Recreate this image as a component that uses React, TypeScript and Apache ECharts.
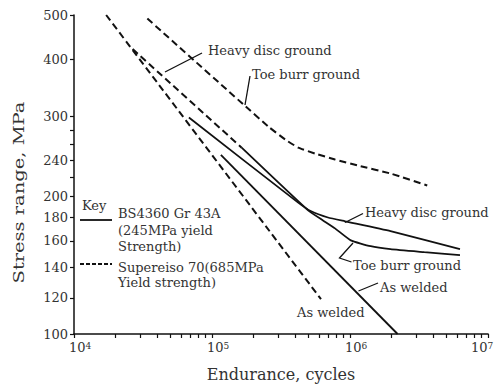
import React, { useEffect, useRef } from 'react';
import * as echarts from 'echarts';

const FONT = '"DejaVu Serif", "Liberation Serif", serif';
const INK = '#111';
const TXT = '#333';

// Axis ticks and labels
const xLabelValues = [10000, 100000, 1000000, 10000000];
const xTickValues = [
  10000, 20000, 30000, 40000, 50000, 60000, 70000, 80000, 90000,
  100000, 200000, 300000, 400000, 500000, 600000, 700000, 800000, 900000,
  1000000, 2000000, 3000000, 4000000, 5000000, 6000000, 7000000, 8000000, 9000000,
  10000000,
];
const yLabelValues = [100, 120, 140, 160, 180, 200, 240, 300, 400, 500];
const yTickValues = [100, 120, 140, 160, 180, 200, 220, 240, 260, 280, 300, 400, 500];

// BS4360 Gr 43A (solid)
const bsAsWelded = [[115900, 247], [2210000, 100]];
const bsHeavyDisc = [
  [68000, 298], [421000, 194], [523000, 185.7], [692000, 180],
  [918000, 176.6], [1965000, 168], [6260000, 153.4],
];
const bsToeBurr = [
  [164000, 256], [497000, 186.6], [637000, 177.4], [778000, 170.4],
  [1013000, 160.4], [1411000, 155.7], [1965000, 153.4], [3450000, 151.1], [6260000, 148.8],
];

// Supereiso 70 (dashed)
const seAsWelded = [[17100, 500], [616000, 119.2]];
const seHeavyDisc = [[26600, 421], [164000, 256]];
const seToeBurr = [
  [34000, 491], [169600, 318], [256500, 284.7], [340000, 266.6], [421000, 256.2],
  [558000, 248.5], [778000, 241.2], [1138000, 234], [1965000, 224.7], [3625000, 211.6],
];

const DASH = [7, 4];

function lineSeries(name: string, data: number[][], dashed: boolean) {
  return {
    name,
    type: 'line',
    data,
    symbol: 'none',
    silent: true,
    smooth: 0.15,
    lineStyle: { color: INK, width: dashed ? 2 : 1.8, type: dashed ? DASH : 'solid' },
  };
}

function txt(text: string, x: number, y: number, extra: any = {}) {
  return {
    type: 'text',
    x,
    y,
    silent: true,
    ...extra,
    style: {
      text,
      fill: TXT,
      fontSize: 13,
      fontFamily: FONT,
      align: 'left',
      textAlign: 'left',
      verticalAlign: 'middle',
      textVerticalAlign: 'middle',
      ...(extra.style || {}),
    },
  };
}

function leader(points: number[][]) {
  return {
    type: 'polyline',
    silent: true,
    shape: { points },
    style: { stroke: INK, lineWidth: 1.3, fill: null },
  };
}

export default function App() {
  const ref = useRef<HTMLDivElement>(null);

  useEffect(() => {
    if (!ref.current) return;
    const chart = echarts.init(ref.current, null, { renderer: 'svg' });
    const option: any = {
      animation: false,
      grid: { left: 74, right: 12.7, top: 15, bottom: 52 },
      xAxis: {
        type: 'log',
        logBase: 10,
        min: 10000,
        max: 10000000,
        axisLine: { show: true, lineStyle: { color: INK, width: 1.5 } },
        axisTick: {
          show: true,
          customValues: xTickValues,
          length: 4,
          inside: false,
          lineStyle: { color: INK, width: 1.2 },
        },
        minorTick: { show: false },
        splitLine: { show: false },
        axisLabel: {
          customValues: xLabelValues,
          margin: 7,
          formatter: (v: number) => {
            const e = Math.round(Math.log10(v));
            return e === 7 ? `{n|10}{s|${e}}{sp| }` : `{sp| }{n|10}{s|${e}}`;
          },
          rich: {
            n: { fontSize: 13, fontFamily: FONT, color: TXT },
            s: { fontSize: 9, fontFamily: FONT, color: TXT, verticalAlign: 'top' },
            sp: { width: 12, fontSize: 13 },
          },
        },
        name: 'Endurance, cycles',
        nameLocation: 'middle',
        nameGap: 32,
        nameTextStyle: { fontFamily: FONT, fontSize: 16, color: TXT },
      },
      yAxis: {
        type: 'log',
        logBase: 10,
        min: 100,
        max: 500,
        axisLine: { show: true, lineStyle: { color: INK, width: 1.5 } },
        axisTick: {
          show: true,
          customValues: yTickValues,
          length: 4,
          inside: false,
          lineStyle: { color: INK, width: 1.2 },
        },
        minorTick: { show: false },
        splitLine: { show: false },
        axisLabel: {
          customValues: yLabelValues,
          margin: 6,
          fontSize: 13,
          fontFamily: FONT,
          color: TXT,
        },
      },
      series: [
        lineSeries('BS4360 As welded', bsAsWelded, false),
        lineSeries('BS4360 Heavy disc ground', bsHeavyDisc, false),
        lineSeries('BS4360 Toe burr ground', bsToeBurr, false),
        lineSeries('Supereiso 70 As welded', seAsWelded, true),
        lineSeries('Supereiso 70 Heavy disc ground', seHeavyDisc, true),
        lineSeries('Supereiso 70 Toe burr ground', seToeBurr, true),
      ],
      graphic: [
        // y axis title
        {
          type: 'text',
          x: 18.5,
          y: 192.5,
          rotation: Math.PI / 2,
          scaleX: 1.3,
          silent: true,
          style: {
            text: 'Stress range, MPa',
            fill: TXT,
            fontSize: 15,
            fontFamily: FONT,
            align: 'center',
            textAlign: 'center',
            verticalAlign: 'middle',
            textVerticalAlign: 'middle',
          },
        },
        // Key
        txt('Key', 82, 205),
        { type: 'line', silent: true, shape: { x1: 80, y1: 220, x2: 112, y2: 220 }, style: { stroke: INK, lineWidth: 1.8 } },
        txt('BS4360 Gr 43A\n(245MPa yield\nStrength)', 118, 230, { style: { lineHeight: 16.5 } }),
        { type: 'line', silent: true, shape: { x1: 80, y1: 264, x2: 112, y2: 264 }, style: { stroke: INK, lineWidth: 1.8, lineDash: [4, 2] } },
        txt('Supereiso 70(685MPa\nYield strength)', 118, 275, { style: { lineHeight: 15 } }),
        // annotations
        leader([[165, 72], [202, 53]]),
        txt('Heavy disc ground', 208, 50),
        leader([[245, 105], [250, 76]]),
        txt('Toe burr ground', 252, 74),
        leader([[345, 222.5], [363, 213.5]]),
        txt('Heavy disc ground', 365, 212),
        leader([[353, 243], [339.5, 258], [351.5, 262]]),
        txt('Toe burr ground', 353, 265),
        leader([[358.5, 291], [378, 283]]),
        txt('As welded', 380, 287),
        txt('As welded', 297, 312),
      ],
    };
    chart.setOption(option);
    return () => chart.dispose();
  }, []);

  return (
    <div
      ref={ref}
      style={{ position: 'fixed', left: 0, top: 0, width: 504, height: 387, background: '#fff' }}
    />
  );
}
